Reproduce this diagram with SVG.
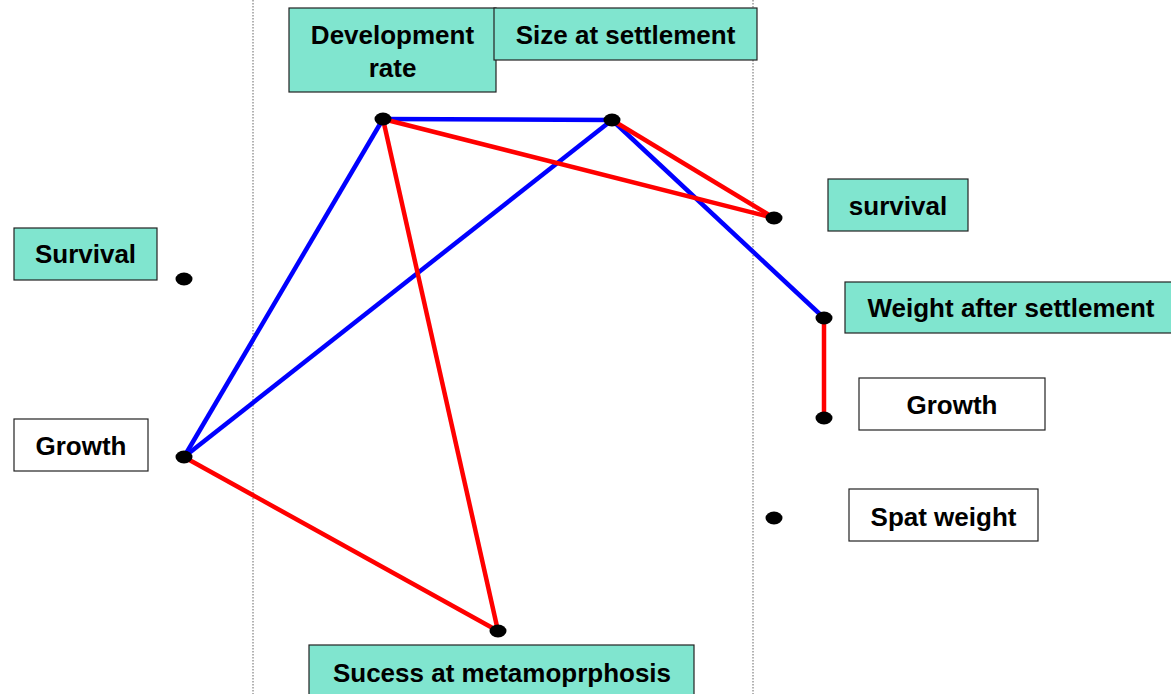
<svg xmlns="http://www.w3.org/2000/svg" width="1171" height="694" viewBox="0 0 1171 694">
<style>
.box{stroke:#222;stroke-width:1.2}
.g{fill:#80E5CF}
.w{fill:#fff}
.t{font-family:"Liberation Sans",Arial,sans-serif;font-weight:bold;font-size:26px;fill:#000;text-anchor:middle}
.blue{stroke:#0000FF;stroke-width:4.5;fill:none}
.red{stroke:#FF0000;stroke-width:4.5;fill:none}
.dot{fill:#000}
.div{stroke:#666;stroke-width:1;stroke-dasharray:1.5 1.5}
</style>
<rect width="1171" height="694" fill="#fff"/>
<line class="div" x1="253" y1="0" x2="253" y2="694"/>
<line class="div" x1="753" y1="0" x2="753" y2="694"/>
<g id="connectors">
<line class="blue" x1="383" y1="119" x2="612" y2="120"/>
<line class="blue" x1="383" y1="119" x2="184" y2="457"/>
<line class="blue" x1="612" y1="120" x2="184" y2="457"/>
<line class="blue" x1="612" y1="120" x2="824" y2="318"/>
<line class="red" x1="383" y1="119" x2="774" y2="218"/>
<line class="red" x1="612" y1="120" x2="774" y2="218"/>
<line class="red" x1="383" y1="119" x2="498" y2="631"/>
<line class="red" x1="184" y1="457" x2="498" y2="631"/>
<line class="red" x1="824" y1="318" x2="824" y2="418"/>
</g>
<g id="dots">
<ellipse class="dot" cx="383" cy="119" rx="8.5" ry="6.5"/>
<ellipse class="dot" cx="612" cy="120" rx="8.5" ry="6.5"/>
<ellipse class="dot" cx="774" cy="218" rx="8.5" ry="6.5"/>
<ellipse class="dot" cx="824" cy="318" rx="8.5" ry="6.5"/>
<ellipse class="dot" cx="824" cy="418" rx="8.5" ry="6.5"/>
<ellipse class="dot" cx="774" cy="518" rx="8.5" ry="6.5"/>
<ellipse class="dot" cx="184" cy="279" rx="8.5" ry="6.5"/>
<ellipse class="dot" cx="184" cy="457" rx="8.5" ry="6.5"/>
<ellipse class="dot" cx="498" cy="631" rx="8.5" ry="6.5"/>
</g>
<g id="n-devrate">
<rect class="box g" x="289" y="8" width="207" height="84"/>
<text class="t" x="392.5" y="44">Development</text>
<text class="t" x="392.5" y="77">rate</text>
</g>
<g id="n-size">
<rect class="box g" x="494" y="8" width="263" height="52"/>
<text class="t" x="625.5" y="44">Size at settlement</text>
</g>
<g id="n-survival-left">
<rect class="box g" x="14" y="228" width="143" height="52"/>
<text class="t" x="85.5" y="263">Survival</text>
</g>
<g id="n-growth-left">
<rect class="box w" x="14" y="419" width="134" height="52"/>
<text class="t" x="81" y="455">Growth</text>
</g>
<g id="n-survival-right">
<rect class="box g" x="828" y="179" width="140" height="52"/>
<text class="t" x="898" y="215">survival</text>
</g>
<g id="n-weight">
<rect class="box g" x="845" y="282" width="330" height="51"/>
<text class="t" x="1011" y="317">Weight after settlement</text>
</g>
<g id="n-growth-right">
<rect class="box w" x="859" y="378" width="186" height="52"/>
<text class="t" x="952" y="414">Growth</text>
</g>
<g id="n-spat">
<rect class="box w" x="849" y="489" width="189" height="52"/>
<text class="t" x="943.5" y="526">Spat weight</text>
</g>
<g id="n-success">
<rect class="box g" x="309" y="645" width="385" height="55"/>
<text class="t" x="502" y="682">Sucess at metamoprphosis</text>
</g>
</svg>
